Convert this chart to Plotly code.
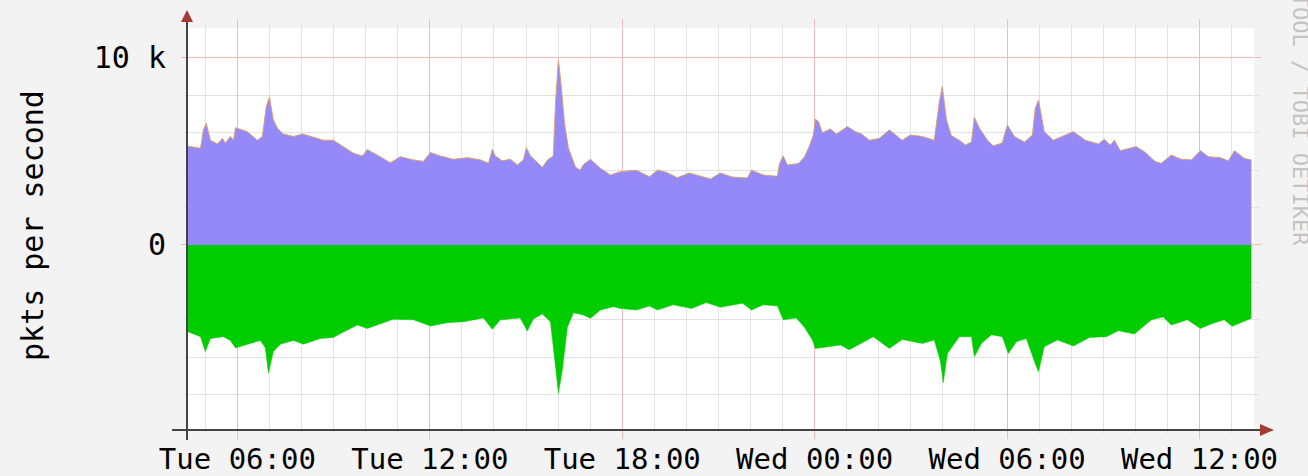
import plotly.graph_objects as go

# hours since Tue 00:00
in_hours = [4.44, 4.85, 4.94, 5.03, 5.16, 5.38, 5.53, 5.63, 5.78, 5.88, 5.94, 6.31, 6.62, 6.78, 6.90, 7.00,
            7.12, 7.25, 7.43, 7.75, 8.03, 8.37, 8.68, 8.99, 9.31, 9.62, 9.90, 10.05, 10.37, 10.77, 11.08,
            11.49, 11.80, 12.02, 12.33, 12.73, 13.17, 13.58, 13.83, 13.95, 14.04, 14.26, 14.51, 14.73,
            14.92, 15.01, 15.14, 15.51, 15.67, 15.85, 15.92, 16.01, 16.10, 16.20, 16.32, 16.54, 16.69,
            16.79, 17.01, 17.32, 17.63, 17.94, 18.44, 18.85, 19.10, 19.35, 19.72, 20.09, 20.75, 21.06,
            21.43, 21.90, 22.03, 22.40, 22.84, 22.90, 23.02, 23.15, 23.49, 23.68, 23.83, 23.96, 24.02,
            24.12, 24.24, 24.49, 24.68, 25.02, 25.27, 25.46, 25.71, 26.02, 26.33, 26.73, 26.98, 27.36,
            27.73, 27.89, 27.98, 28.11, 28.26, 28.51, 28.70, 28.89, 28.98, 29.14, 29.39, 29.57, 29.85,
            30.01, 30.23, 30.54, 30.79, 30.88, 30.98, 31.16, 31.44, 31.69, 32.07, 32.44, 32.85, 33.03,
            33.22, 33.35, 33.53, 34.03, 34.28, 34.62, 34.81, 35.12, 35.43, 35.75, 36.03, 36.28, 36.65,
            36.90, 37.09, 37.40, 37.62]
in_pkts = [5290, 5170, 6150, 6500, 5600, 5400, 5700, 5450, 5800, 5600, 6270, 6060, 5600, 5800, 7400, 7900,
           6700, 6240, 5940, 5800, 5940, 5760, 5600, 5600, 5260, 4900, 4760, 5100, 4800, 4400, 4720,
           4550, 4470, 4940, 4760, 4580, 4670, 4550, 4370, 5120, 4760, 4500, 4580, 4280,
           4550, 5200, 4760, 4150, 4550, 4760, 7600, 9900, 8470, 6500, 5200, 4170, 4000,
           4300, 4580, 4100, 3740, 3920, 4000, 3650, 4000, 3900, 3600, 3850, 3530, 3850,
           3630, 3580, 4000, 3740, 3670, 4330, 4760, 4280, 4350, 4700, 5260, 5880, 6720,
           6600, 6000, 6200, 5940, 6330, 6060, 5940, 5600, 5700, 6150, 5600, 5880, 5800,
           5600, 7670, 8470, 6700, 5850, 5600, 5350, 5500, 6830, 6240, 5600, 5300, 5450,
           6420, 5800, 5500, 5880, 7310, 7750, 6060, 5600, 5800, 6060, 5600, 5400, 5650,
           5350, 5600, 5040, 5260, 4990, 4460, 4370, 4810, 4580, 4550, 5040, 4720, 4670,
           4500, 5040, 4630, 4550]

out_hours = [4.44, 4.85, 5.00, 5.16, 5.56, 5.78, 5.94, 6.31, 6.72, 6.87, 6.97, 7.12, 7.34, 7.75, 8.06,
             8.59, 8.99, 9.43, 9.74, 10.05, 10.46, 10.86, 11.49, 12.02, 12.55, 13.05, 13.67, 13.95,
             14.20, 14.82, 15.04, 15.23, 15.51, 15.76, 15.92, 16.01, 16.13, 16.29, 16.48, 16.79,
             17.01, 17.32, 17.72, 17.94, 18.44, 18.85, 19.10, 19.59, 20.16, 20.62, 21.06, 21.75,
             22.03, 22.40, 22.84, 23.02, 23.43, 23.68, 23.93, 24.02, 24.43, 24.80, 25.08, 25.83,
             26.33, 26.73, 27.36, 27.73, 27.92, 28.01, 28.14, 28.51, 28.89, 28.98, 29.20, 29.51,
             29.85, 30.04, 30.29, 30.60, 30.91, 30.98, 31.16, 31.57, 32.07, 32.57, 33.10, 33.47,
             33.97, 34.50, 34.87, 35.12, 35.62, 36.03, 36.40, 36.77, 37.02, 37.62]
out_pkts = [-4630, -4900, -5700, -5000, -4900, -5100, -5500, -5300, -5100, -5500, -6860, -5700, -5300,
            -5100, -5300, -5000, -4940, -4550, -4280, -4460, -4200, -3970, -4000, -4330, -4150, -4100,
            -3900, -4500, -4000, -3900, -4600, -3950, -3690, -4100, -6500, -7930, -6700, -4400, -3620,
            -3740, -3920, -3480, -3300, -3390, -3480, -3260, -3480, -3200, -3390, -3080, -3330, -3120,
            -3480, -3200, -3260, -4000, -3900, -4400, -5080, -5530, -5440, -5350, -5600, -4900,
            -5530, -5050, -5260, -5080, -6200, -7360, -5800, -4900, -4900, -5970, -5260, -4800,
            -4900, -5800, -5170, -5000, -6500, -6770, -5440, -5080, -5400, -4940, -4900, -4580,
            -4760, -4000, -3850, -4280, -4000, -4460, -4200, -4000, -4350, -3920]

major_ticks = [6, 12, 18, 24, 30, 36]
major_labels = ["Tue 06:00", "Tue 12:00", "Tue 18:00", "Wed 00:00", "Wed 06:00", "Wed 12:00"]
y_ticks = [0, 10000]
y_labels = ["0", "10 k"]

MONO = "DejaVu Sans Mono"
PURPLE = "#9589FA"
GREEN = "#00CC00"

fig = go.Figure()
fig.add_trace(go.Scatter(x=in_hours, y=in_pkts, mode="lines", fill="tozeroy",
                         line=dict(color="#D9A070", width=1), fillcolor=PURPLE,
                         hoverinfo="skip", showlegend=False))
fig.add_trace(go.Scatter(x=out_hours, y=out_pkts, mode="lines", fill="tozeroy",
                         line=dict(color=GREEN, width=0.5), fillcolor=GREEN,
                         hoverinfo="skip", showlegend=False))

L, R, T, B = 188, 54, 28, 46
W, H = 1308, 476
pw, ph = W - L - R, H - T - B

fig.update_layout(
    width=W, height=H,
    margin=dict(l=L, r=R, t=T, b=B, autoexpand=False),
    paper_bgcolor="#F3F3F3", plot_bgcolor="#FFFFFF",
    font=dict(family=MONO, size=30, color="#000000"),
    xaxis=dict(range=[4.46, 37.7], tickvals=major_ticks, ticktext=major_labels,
               showgrid=True, gridcolor="#F4B8B8", gridwidth=1,
               ticks="outside", ticklen=8, tickcolor="#F4B8B8", tickwidth=1,
               mirror="ticks", showline=False, zeroline=False,
               tickfont=dict(family=MONO, size=29, color="#000000"),
               ticklabelstandoff=-5, automargin=False,
               minor=dict(dtick=1, tick0=0, showgrid=True, gridcolor="#E2E2E2", gridwidth=1,
                          ticks="outside", ticklen=3, tickcolor="#E2E2E2")),
    yaxis=dict(range=[-9890, 11600], tickvals=y_ticks, ticktext=y_labels,
               showgrid=True, gridcolor="#F4B8B8", gridwidth=1,
               ticks="outside", ticklen=6, tickcolor="#F4B8B8", tickwidth=1,
               mirror="ticks", showline=False, zeroline=False,
               tickfont=dict(family=MONO, size=30, color="#000000"),
               ticklabelstandoff=9, automargin=False,
               minor=dict(dtick=2000, tick0=0, showgrid=True, gridcolor="#E2E2E2", gridwidth=1,
                          ticks="outside", ticklen=4, tickcolor="#E2E2E2")),
)

# axis lines (extending past the plot like rrdtool) with arrowheads
AX = "#444444"
ARROW = "#A53A30"
fig.add_shape(type="line", xref="paper", yref="paper", xsizemode="pixel", ysizemode="pixel",
              xanchor=0, yanchor=0, x0=-16, x1=pw + 10, y0=0, y1=0,
              line=dict(color=AX, width=2))
fig.add_shape(type="line", xref="paper", yref="paper", xsizemode="pixel", ysizemode="pixel",
              xanchor=0, yanchor=0, x0=-1, x1=-1, y0=-10, y1=ph + 6,
              line=dict(color=AX, width=2))
fig.add_shape(type="path", xref="paper", yref="paper", xsizemode="pixel", ysizemode="pixel",
              xanchor=0, yanchor=0,
              path=f"M {pw+6},-6 L {pw+20},0 L {pw+6},6 Z",
              fillcolor=ARROW, line=dict(color=ARROW, width=0))
fig.add_shape(type="path", xref="paper", yref="paper", xsizemode="pixel", ysizemode="pixel",
              xanchor=0, yanchor=0,
              path=f"M -7,{ph+6} L -1,{ph+18} L 5,{ph+6} Z",
              fillcolor=ARROW, line=dict(color=ARROW, width=0))

# y-axis title
fig.add_annotation(text="pkts per second", xref="paper", yref="paper",
                   x=(32 - L) / pw, y=(H - B - 226) / ph, xanchor="center", yanchor="middle",
                   textangle=-90, showarrow=False,
                   font=dict(family=MONO, size=30, color="#000000"))
# watermark (partly outside the picture, as in the reference)
fig.add_annotation(text="RRDTOOL / TOBI OETIKER", xref="paper", yref="paper",
                   x=(1300 - L) / pw, y=(H - B - 100) / ph, xanchor="center", yanchor="middle",
                   textangle=90, showarrow=False,
                   font=dict(family=MONO, size=22, color="#C4C4C4"))

fig.write_html("out.html", config={"displayModeBar": False},
               post_script="document.body.style.margin='0px';document.body.style.overflow='hidden';")
